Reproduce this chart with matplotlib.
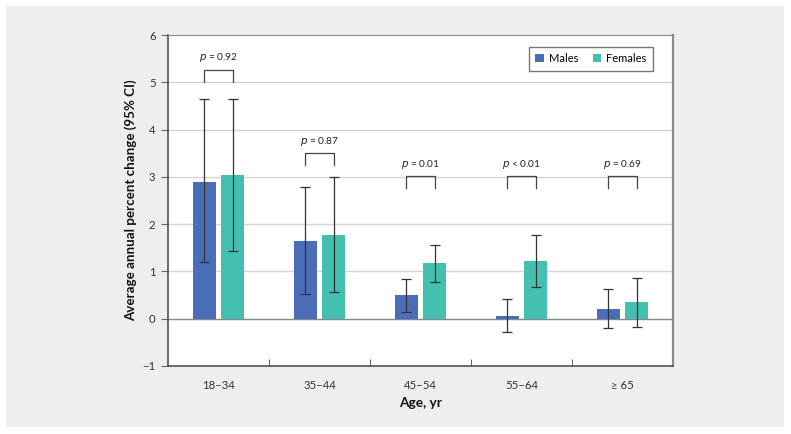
import numpy as np
import matplotlib
matplotlib.use("Agg")
import matplotlib.pyplot as plt
from matplotlib.patches import Rectangle

plt.rcParams["font.family"] = ["Lato", "DejaVu Sans"]

# datos
edades = ["18\u201334", "35\u201344", "45\u201354", "55\u201364", "\u2265 65"]
hombres = [2.90, 1.65, 0.50, 0.06, 0.21]
hombres_lo = [1.20, 0.52, 0.15, -0.29, -0.20]
hombres_hi = [4.64, 2.78, 0.85, 0.42, 0.63]
mujeres = [3.03, 1.77, 1.17, 1.22, 0.35]
mujeres_lo = [1.44, 0.57, 0.78, 0.68, -0.18]
mujeres_hi = [4.64, 3.00, 1.56, 1.77, 0.87]
p_textos = ["= 0.92", "= 0.87", "= 0.01", "< 0.01", "= 0.69"]
p_altura = [5.26, 3.50, 3.01, 3.01, 3.01]

azul = "#4a6db8"
verde = "#44c0b0"

fig = plt.figure(figsize=(7.91, 4.34), dpi=100)
fig.patch.set_facecolor("white")
fig.patches.append(Rectangle((6 / 791, 7 / 434), 778 / 791, 421 / 434,
                             transform=fig.transFigure, facecolor="#edeeed",
                             edgecolor="none", zorder=-10))
ax = fig.add_axes([168 / 791, 1 - 366 / 434, 505 / 791, 331 / 434])
ax.set_facecolor("white")

x = np.arange(len(edades))
ancho = 0.225
off = 0.142

err_h = [np.array(hombres) - np.array(hombres_lo), np.array(hombres_hi) - np.array(hombres)]
err_m = [np.array(mujeres) - np.array(mujeres_lo), np.array(mujeres_hi) - np.array(mujeres)]

ax.bar(x - off, hombres, ancho, color=azul, label="Males", zorder=3)
ax.bar(x + off, mujeres, ancho, color=verde, label="Females", zorder=3)
ax.errorbar(x - off, hombres, yerr=err_h, fmt="none", ecolor="#333333",
            elinewidth=0.9, capsize=3.6, capthick=0.9, zorder=4)
ax.errorbar(x + off, mujeres, yerr=err_m, fmt="none", ecolor="#333333",
            elinewidth=0.9, capsize=3.6, capthick=0.9, zorder=4)

# corchetes p
for i in range(len(edades)):
    top = p_altura[i]
    ax.plot([x[i] - off, x[i] - off, x[i] + off, x[i] + off],
            [top - 0.25, top, top, top - 0.25], color="#444444", lw=0.9, zorder=4)
    ax.text(x[i], top + 0.12, r"$\it{p}$ " + p_textos[i], ha="center", va="bottom",
            fontsize=7.3, color="#222222")

ax.set_xlim(-0.5, 4.5)
ax.set_ylim(-1, 6)
ax.set_yticks(range(-1, 7))
ax.set_yticklabels(["\u22121"] + [str(i) for i in range(0, 7)])
ax.set_xticks(x)
ax.set_xticklabels(edades)
ax.set_xticks(np.arange(0.5, 4.5, 1), minor=True)
ax.tick_params(axis="x", which="major", length=0, pad=10, labelsize=8.2, colors="#333333")
ax.tick_params(axis="x", which="minor", length=5, color="#444444", direction="in")
ax.tick_params(axis="y", length=5, color="#666666", labelsize=8.2, labelcolor="#333333", pad=4)
for yy in range(1, 6):
    ax.axhline(yy, color="#d5d5d5", lw=1, zorder=1)
ax.axhline(0, color="#888888", lw=1, zorder=2)

for s in ["left", "bottom"]:
    ax.spines[s].set_color("#444444")
    ax.spines[s].set_linewidth(1.1)
ax.spines["top"].set_color("#8a8a8a")
ax.spines["right"].set_color("#8a8a8a")
ax.spines["right"].set_linewidth(1.6)

ax.set_ylabel("Average annual percent change (95% CI)", fontsize=9.6, fontweight="bold",
              color="#111111", labelpad=3.5)
ax.set_xlabel("Age, yr", fontsize=9.8, fontweight="bold", color="#111111", labelpad=4.5)

ax.legend(loc="upper right", bbox_to_anchor=(0.96, 0.965), ncol=2, fontsize=8,
          frameon=True, fancybox=False, edgecolor="#555555", handlelength=0.75,
          handleheight=0.75, columnspacing=1.3, handletextpad=0.45, borderpad=0.6,
          borderaxespad=0)

fig.savefig("out.png", dpi=100, facecolor=fig.get_facecolor())
